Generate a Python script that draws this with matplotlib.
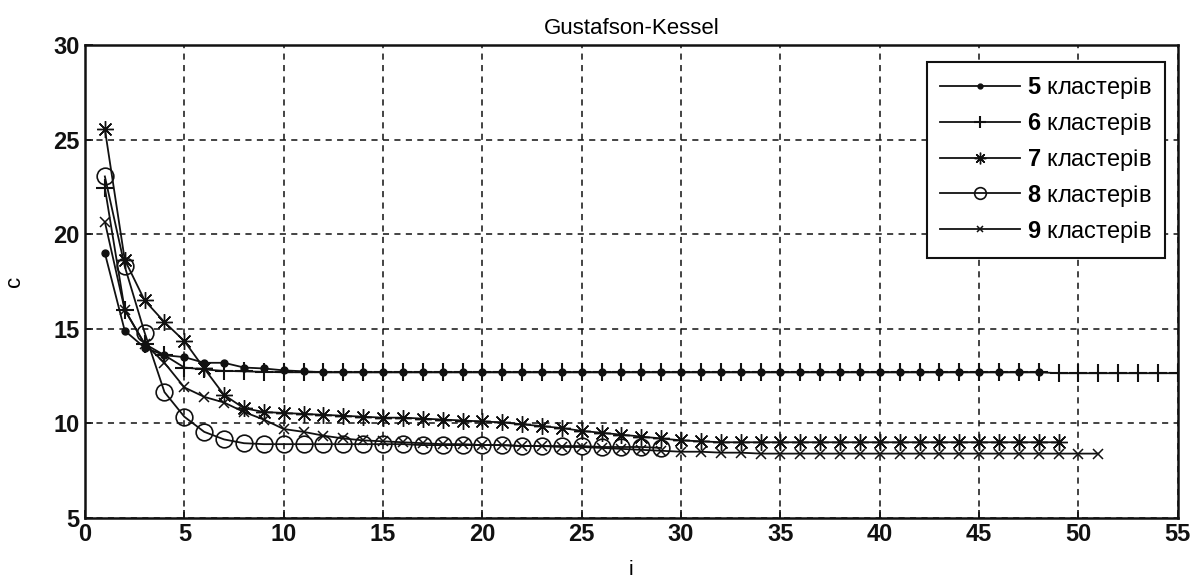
import matplotlib
matplotlib.use('Agg')
import matplotlib.pyplot as plt

# values
y5 = [19.0, 14.9, 14.0, 13.6, 13.5, 13.2, 13.2, 12.95, 12.9, 12.8, 12.75,
      12.7, 12.7, 12.7, 12.7, 12.7, 12.7, 12.7, 12.7, 12.7, 12.7, 12.7, 12.7, 12.7,
      12.7, 12.7, 12.7, 12.7, 12.7, 12.7, 12.7, 12.7, 12.7, 12.7, 12.7, 12.7, 12.7,
      12.7, 12.7, 12.7, 12.7, 12.7, 12.7, 12.7, 12.7, 12.7, 12.7, 12.7]
y6 = [22.45, 16.0, 14.2, 13.6, 12.95, 12.85, 12.77, 12.75, 12.72,
      12.7, 12.7, 12.7, 12.7, 12.7, 12.7, 12.7, 12.7, 12.7, 12.7, 12.7, 12.7, 12.7,
      12.7, 12.7, 12.7, 12.7, 12.7, 12.7, 12.7, 12.7, 12.7, 12.7, 12.7, 12.7, 12.7,
      12.7, 12.7, 12.7, 12.7, 12.7, 12.7, 12.7, 12.7, 12.7, 12.7, 12.7, 12.7, 12.7,
      12.65, 12.65, 12.65, 12.65, 12.65, 12.65, 12.65]
y7 = [25.55, 18.65, 16.5, 15.35, 14.35, 12.9, 11.5, 10.8, 10.6, 10.55, 10.5,
      10.45, 10.4, 10.35, 10.3, 10.3, 10.25, 10.2, 10.15, 10.1, 10.05, 9.95, 9.85,
      9.75, 9.6, 9.5, 9.4, 9.3, 9.2, 9.1, 9.05,
      9.0, 9.0, 9.0, 9.0, 9.0, 9.0, 9.0, 9.0, 9.0, 9.0, 9.0, 9.0, 9.0, 9.0, 9.0,
      9.0, 9.0, 9.0]
y8 = [23.05, 18.3, 14.8, 11.65, 10.35, 9.55, 9.15, 8.95, 8.9, 8.9, 8.9, 8.9,
      8.9, 8.9, 8.9, 8.9, 8.85, 8.85, 8.85, 8.85, 8.85, 8.8, 8.8, 8.8, 8.8, 8.75,
      8.75, 8.75, 8.7]
y9 = [20.65, 16.0, 14.2, 13.2, 11.9, 11.4, 11.1, 10.6, 10.2, 9.7, 9.55, 9.35,
      9.2, 9.1, 9.05, 9.0, 8.95, 8.9, 8.9, 8.85, 8.85, 8.8, 8.8, 8.75, 8.75, 8.7,
      8.65, 8.6, 8.55, 8.5, 8.5, 8.45, 8.45, 8.4, 8.4, 8.4, 8.4, 8.4, 8.4, 8.4,
      8.4, 8.4, 8.4, 8.4, 8.4, 8.4, 8.4, 8.4, 8.4, 8.4, 8.4]

counts = ['5', '6', '7', '8', '9']
labels = [r'$\mathbf{%s}$ кластерів' % n for n in counts]

plt.rcParams['font.family'] = ['Liberation Sans', 'DejaVu Sans']
plt.rcParams['mathtext.fontset'] = 'custom'
plt.rcParams['mathtext.bf'] = 'Liberation Sans:bold'
plt.rcParams['mathtext.rm'] = 'Liberation Sans'

fig = plt.figure(figsize=(11.97, 5.80), dpi=100)
ax = fig.add_axes([0.071, 0.107, 0.913, 0.8155])

ink = '#111111'
asterisk = (8, 2, 0)

ax.plot(range(1, len(y5) + 1), y5, color=ink, lw=1.3, marker='.', ms=10, label=labels[0])
ax.plot(range(1, len(y6) + 1), y6, color=ink, lw=1.3, marker='+', ms=13, mew=1.5, label=labels[1])
ax.plot(range(1, len(y7) + 1), y7, color=ink, lw=1.3, marker=asterisk, ms=12, mew=1.0, label=labels[2])
ax.plot(range(1, len(y8) + 1), y8, color=ink, lw=1.3, marker='o', ms=12, mfc='none', mew=1.2, label=labels[3])
ax.plot(range(1, len(y9) + 1), y9, color=ink, lw=1.3, marker='x', ms=7, mew=1.1, label=labels[4])

ax.set_xlim(0, 55)
ax.set_ylim(5, 30)
ax.set_xticks(range(0, 56, 5))
ax.set_yticks(range(5, 31, 5))
ax.grid(True, color=ink, linestyle=(0, (4, 3.5)), linewidth=1.1)
ax.tick_params(direction='in', length=6, width=1.2, labelsize=17, pad=4, colors=ink)
for t in ax.get_xticklabels() + ax.get_yticklabels():
    t.set_fontweight('bold')
for s in ax.spines.values():
    s.set_linewidth(1.8)
    s.set_color(ink)

ax.set_title('Gustafson-Kessel', fontsize=16, pad=8)
ax.set_xlabel('i', fontsize=15, labelpad=10)
ax.set_ylabel('c', fontsize=16, labelpad=20)

leg = ax.legend(loc='upper right', bbox_to_anchor=(0.988, 0.964), borderaxespad=0,
                prop={'size': 17}, fancybox=False, framealpha=1, edgecolor=ink,
                handlelength=3.4, handletextpad=0.3, labelspacing=0.42,
                borderpad=0.55)
leg.get_frame().set_linewidth(1.5)
# legend markers are drawn smaller than in the plot
for h in leg.legend_handles:
    h.set_markersize(h.get_markersize() * 0.7)

fig.savefig('out.png', dpi=100)
